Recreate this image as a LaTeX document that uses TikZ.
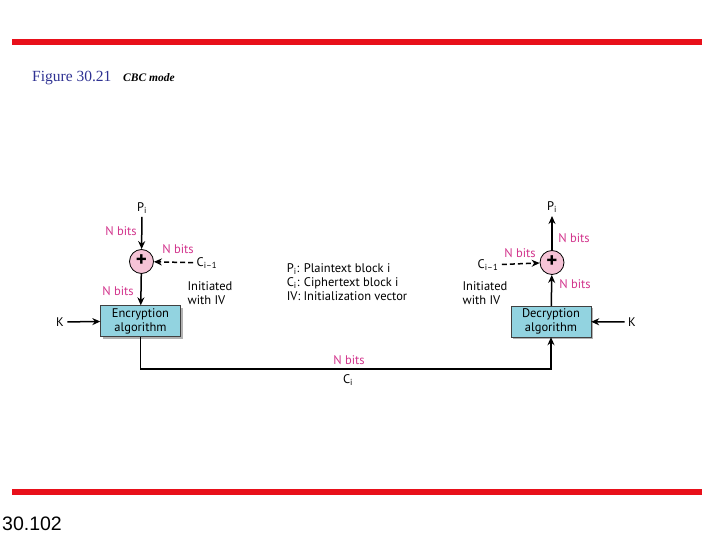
\documentclass[tikz,border=0pt]{standalone}
\usepackage{fontspec}
\setmainfont{PT Sans}
\newfontfamily\titlefont{Liberation Serif}
\newfontfamily\pagefont{Liberation Sans}
\usetikzlibrary{positioning,arrows.meta}
\definecolor{CBCRed}{HTML}{E8101A}
\definecolor{CBCBlue}{HTML}{2E3192}
\definecolor{CBCMagenta}{HTML}{D2348C}
\definecolor{CBCBox}{HTML}{92D3E0}
\definecolor{CBCPink}{HTML}{F5C3D6}

\begin{document}
\begin{tikzpicture}[x=1pt,y=-1pt,>={Stealth[length=8pt,width=7pt]}]
  \useasboundingbox (0,0) rectangle (720,540);
  % slide frame
  \fill[CBCRed] (12,39) rectangle (702,45);
  \fill[CBCRed] (12,489) rectangle (702,495);
  \node[anchor=base west,inner sep=0,font=\titlefont\fontsize{15.5}{18}\selectfont,text=CBCBlue] (fig) at (32,82) {Figure 30.21};
  \node[anchor=base west,inner sep=0,font=\titlefont\fontsize{11.5}{13}\selectfont\bfseries\itshape] (cap) at (123,82) {CBC mode};
  \node[anchor=base west,inner sep=0,font=\pagefont\fontsize{19.5}{21}\selectfont] (page) at (2,530) {30.102};
  % encryption side
  \node[font=\fontsize{12.5}{14}\selectfont] (pE) at (142,208) {P\textsubscript{i}};
  \node[draw,line width=0.8pt,fill=CBCPink,circle,minimum size=24pt,inner sep=0,font=\bfseries\fontsize{21}{21}\selectfont] (xorE) at (141.5,261.5) {\raisebox{1.5pt}{+}};
  \fill[black!30] (102.5,307.5) rectangle (182.5,338.5);
  \node[draw=black!75,fill=CBCBox,minimum width=80pt,minimum height=31pt,align=center,
    inner sep=1pt,font=\fontsize{12.5}{14}\selectfont] (enc) at (140.5,321) {Encryption\\algorithm};
  \node[font=\fontsize{12.5}{14}\selectfont] (kE) at (60,322) {K};
  \node[font=\fontsize{12.5}{14}\selectfont] (cE) at (207,263) {C\textsubscript{i--1}};
  \node[align=left,font=\fontsize{12.5}{14}\selectfont] (ivE) at (210,293) {Initiated\\with IV};
  \node[text=CBCMagenta,font=\fontsize{12.5}{14}\selectfont] (nb1) at (121,231) {N bits};
  \node[text=CBCMagenta,font=\fontsize{12.5}{14}\selectfont] (nb2) at (178,249) {N bits};
  \node[text=CBCMagenta,font=\fontsize{12.5}{14}\selectfont] (nb3) at (118,291) {N bits};
  \draw[->,line width=1.5pt] (pE) -- (xorE);
  \draw[->,line width=1.5pt,dash pattern=on 5pt off 3pt] (cE) -- (xorE);
  \draw[->,line width=1.5pt] (xorE) -- (enc);
  \draw[->,line width=1.5pt] (kE) -- (enc);
  % legend
  \node[align=left,font=\fontsize{12.5}{14}\selectfont] (key) at (347,282)
    {P\textsubscript{i}: Plaintext block i\\C\textsubscript{i}: Ciphertext block i\\IV: Initialization vector};
  % decryption side
  \node[font=\fontsize{12.5}{14}\selectfont] (pD) at (552,207) {P\textsubscript{i}};
  \node[draw,line width=0.8pt,fill=CBCPink,circle,minimum size=24pt,inner sep=0,font=\bfseries\fontsize{21}{21}\selectfont] (xorD) at (552,262.5) {\raisebox{1.5pt}{+}};
  \fill[black!30] (513,308) rectangle (593,339);
  \node[draw=black!75,fill=CBCBox,minimum width=80pt,minimum height=31pt,align=center,
    inner sep=1pt,font=\fontsize{12.5}{14}\selectfont] (dec) at (551,321.5) {Decryption\\algorithm};
  \node[font=\fontsize{12.5}{14}\selectfont] (kD) at (632,322) {K};
  \node[font=\fontsize{12.5}{14}\selectfont] (cD) at (488,265) {C\textsubscript{i--1}};
  \node[align=left,font=\fontsize{12.5}{14}\selectfont] (ivD) at (485,293) {Initiated\\with IV};
  \node[text=CBCMagenta,font=\fontsize{12.5}{14}\selectfont] (nb4) at (574,238) {N bits};
  \node[text=CBCMagenta,font=\fontsize{12.5}{14}\selectfont] (nb5) at (520,253) {N bits};
  \node[text=CBCMagenta,font=\fontsize{12.5}{14}\selectfont] (nb6) at (575,284) {N bits};
  \draw[->,line width=1.5pt] (xorD) -- (pD);
  \draw[->,line width=1.5pt,dash pattern=on 5pt off 3pt] (cD) -- (xorD);
  \draw[->,line width=1.5pt] (dec) -- (xorD);
  \draw[->,line width=1.5pt] (kD) -- (dec);
  % ciphertext link
  \coordinate (low) at (347,369);
  \node[text=CBCMagenta,font=\fontsize{12.5}{14}\selectfont] (nb7) at (349,360) {N bits};
  \node[font=\fontsize{12.5}{14}\selectfont] (cI) at (348,380) {C\textsubscript{i}};
  \draw[->,line width=1.5pt] (enc.south) |- (low) -| (dec.south);
\end{tikzpicture}
\end{document}
